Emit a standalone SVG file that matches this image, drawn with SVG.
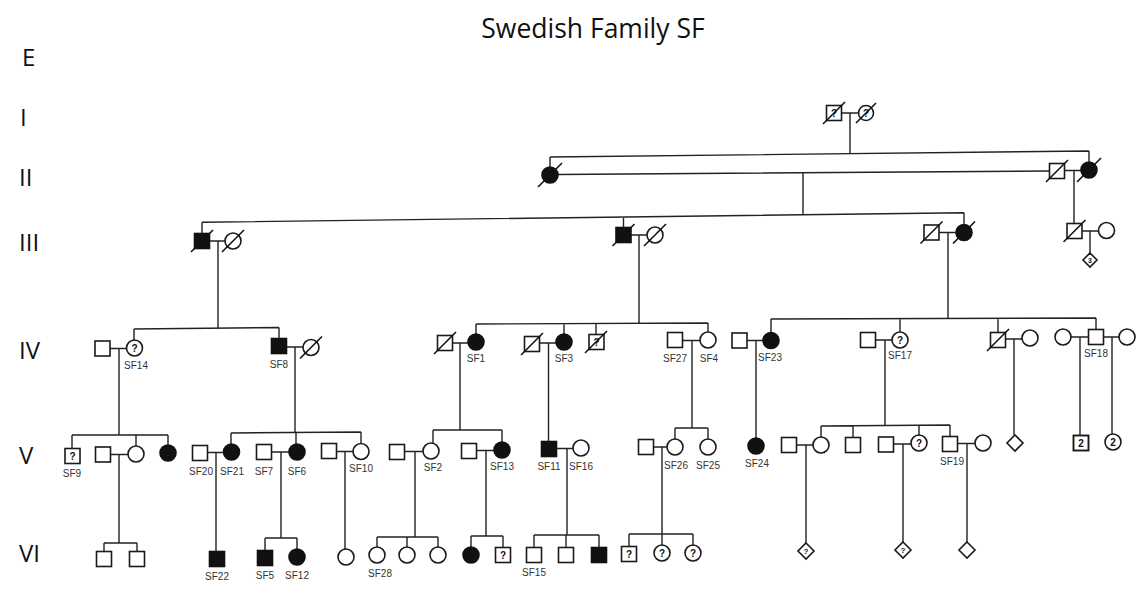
<svg xmlns="http://www.w3.org/2000/svg" width="1145" height="596" viewBox="0 0 1145 596">
<style>
.m{fill:#fff;stroke:#1a1a1a;stroke-width:1.6}
.f{fill:#111;stroke:#111;stroke-width:1.6}
.d{stroke:#111;stroke-width:1.6}
.ln{stroke:#222;stroke-width:1.4;fill:none}
.lb{font-family:"Liberation Sans",Arial,sans-serif;font-size:10px;fill:#333;text-anchor:middle}
.q{font-family:"Liberation Sans",Arial,sans-serif;font-size:10px;font-weight:bold;fill:#111;text-anchor:middle}
.gen{font-family:"Open Sans","Liberation Sans",sans-serif;font-size:24px;fill:#111}
.title{font-family:"Open Sans","Liberation Sans",sans-serif;font-size:26.5px;fill:#111;text-anchor:middle}
</style>
<rect width="1145" height="596" fill="#fff"/>
<text class="title" x="593" y="38">Swedish Family SF</text>
<g id="gen-labels">
<text class="gen" x="22" y="66">E</text>
<text class="gen" x="20" y="126">I</text>
<text class="gen" x="19" y="186">II</text>
<text class="gen" x="19" y="251">III</text>
<text class="gen" x="19" y="359">IV</text>
<text class="gen" x="19" y="464">V</text>
<text class="gen" x="19" y="562">VI</text>
</g>
<g id="connectors" class="ln">
<path d="M841.5 113H858.5M850 113V153.7"/>
<path d="M550 157L1089 151M550 157V167M1089 151V162"/>
<path d="M558 174.5L1049.5 171M1064.5 170.5H1081M803 173V214.7M1074 170.5V223.5"/>
<path d="M202 222.3L964 212.7M202 222.3V233.5M623.5 217V227.5M964 212.7V224.5"/>
<path d="M209.5 241H225M631 235H647M939 232.5H956M1082 231H1098.5"/>
<path d="M218 241V328.3M639 235V323.5M948 232.5V318.5M1090 231V253"/>
<path d="M134 329L279 327.5M134 329V340M279 327.5V338.5M110 348.5H126.5M286.5 347H303M119 348.5V435M295 347V433"/>
<path d="M476 324L708 323M476 324V334M564 323.6V334M596 323.5V334.5M708 323V332M452.5 343H468M539.5 343H556M682.5 340.5H700M460 343V430M548.5 343V441.5M692 340.5V428"/>
<path d="M771 319L1096 318M771 319V332.5M900 318.6V332M998 318.3V332.5M1096 318V329.5M747 340.5H763M875.5 340H892M1005.5 339H1022M1071 337H1088.5M1103.5 337H1119M756 340.5V438M885 340V426M1014 339V435M1080 337V435.5M1112 337V434"/>
<path d="M72 435H168M72 435V448.5M136 435V446M168 435V445M110.5 454.5H128M119 454.5V543M104 543H137M104 543V551.5M137 543V551.5"/>
<path d="M231 433L361 432M231 433V444M296 432.5V444M361 432V443.5M207.5 452.5H223.5M271.5 452H289M336.5 451.5H353M216 452.5V551.5M281 452V538M345 451.5V549M265 538H297M265 538V550.5M297 538V549"/>
<path d="M433 430H502M433 430V443M502 430V442M404.5 451.5H423M476.5 450.5H494M556.5 448.5H573M415 451.5V537M486 450.5V536M567 448.5V535"/>
<path d="M377 537H438M377 537V547M407 537V547M438 537V547M471 536H503M471 536V547M503 536V547.5M534 535H599M534 535V547.5M566 535V547.5M599 535V547.5"/>
<path d="M675 428H708M675 428V439M708 428V439M653.5 447H667M662 447V534M629 534H693M629 534V546.5M662 534V545M693 534V545"/>
<path d="M821 426L950 425M821 426V437M853 425.8V437.5M919 425.2V435M950 425V436.5M796.5 445H813M893.5 444H911M957.5 443.5H975M806 445V543M903 444V542M967 443.5V542"/>
</g>
<!-- Generation I -->
<g id="I-1"><rect class="m" x="826.5" y="105.5" width="15" height="15"/><text class="q" x="834" y="117">?</text><line class="d" x1="823" y1="124" x2="845" y2="102"/></g>
<g id="I-2"><circle class="m" cx="866" cy="113" r="7.5"/><text class="q" x="866" y="117">?</text><line class="d" x1="856" y1="123" x2="876" y2="103"/></g>
<!-- Generation II -->
<g id="II-1"><circle class="f" cx="550" cy="175" r="8"/><line class="d" x1="538" y1="187" x2="562" y2="163"/></g>
<g id="II-2"><rect class="m" x="1049.5" y="163.5" width="15" height="15"/><line class="d" x1="1046" y1="182" x2="1068" y2="160"/></g>
<g id="II-3"><circle class="f" cx="1089" cy="170" r="8"/><line class="d" x1="1077" y1="182" x2="1101" y2="158"/></g>
<!-- Generation III -->
<g id="III-1"><rect class="f" x="194.5" y="233.5" width="15" height="15"/><line class="d" x1="191" y1="252" x2="213" y2="230"/></g>
<g id="III-2"><circle class="m" cx="233" cy="241" r="8"/><line class="d" x1="222" y1="252" x2="244" y2="230"/></g>
<g id="III-3"><rect class="f" x="616" y="227.5" width="15" height="15"/><line class="d" x1="612.5" y1="246" x2="634.5" y2="224"/></g>
<g id="III-4"><circle class="m" cx="655" cy="235" r="8"/><line class="d" x1="644" y1="246" x2="666" y2="224"/></g>
<g id="III-5"><rect class="m" x="924" y="225" width="15" height="15"/><line class="d" x1="920.5" y1="243.5" x2="942.5" y2="221.5"/></g>
<g id="III-6"><circle class="f" cx="964" cy="232.5" r="8"/><line class="d" x1="953" y1="243.5" x2="975" y2="221.5"/></g>
<g id="III-7"><rect class="m" x="1067" y="223.5" width="15" height="15"/><line class="d" x1="1063.5" y1="242" x2="1085.5" y2="220"/></g>
<g id="III-8"><circle class="m" cx="1106.5" cy="230.5" r="8"/></g>
<g id="III-9"><polygon class="m" points="1090,253 1097,260 1090,267 1083,260"/><text class="q" x="1090" y="262.5" style="font-size:7px">3</text></g>
<!-- Generation IV -->
<g id="IV-1"><rect class="m" x="95" y="341" width="15" height="15"/></g>
<g id="IV-2"><circle class="m" cx="134.5" cy="348" r="8"/><text class="q" x="134.5" y="351.5">?</text><text class="lb" x="136" y="369">SF14</text></g>
<g id="IV-3"><rect class="f" x="271.5" y="338.5" width="15" height="15"/><text class="lb" x="279" y="368">SF8</text></g>
<g id="IV-4"><circle class="m" cx="311" cy="347.5" r="8"/><line class="d" x1="300" y1="358.5" x2="322" y2="336.5"/></g>
<g id="IV-5"><rect class="m" x="437.5" y="335.5" width="15" height="15"/><line class="d" x1="434" y1="354" x2="456" y2="332"/></g>
<g id="IV-6"><circle class="f" cx="476" cy="342" r="8"/><text class="lb" x="476" y="362">SF1</text></g>
<g id="IV-7"><rect class="m" x="524.5" y="336.5" width="15" height="15"/><line class="d" x1="521" y1="355" x2="543" y2="333"/></g>
<g id="IV-8"><circle class="f" cx="564" cy="342" r="8"/><text class="lb" x="564" y="362">SF3</text></g>
<g id="IV-9"><rect class="m" x="589" y="334.5" width="15" height="15"/><text class="q" x="596.5" y="345.5">?</text><line class="d" x1="585" y1="353" x2="607" y2="331"/></g>
<g id="IV-10"><rect class="m" x="667.5" y="332.5" width="15" height="15"/><text class="lb" x="675" y="362">SF27</text></g>
<g id="IV-11"><circle class="m" cx="708" cy="340" r="8"/><text class="lb" x="709" y="362">SF4</text></g>
<g id="IV-12"><rect class="m" x="732" y="333" width="15" height="15"/></g>
<g id="IV-13"><circle class="f" cx="771" cy="340.5" r="8"/><text class="lb" x="770" y="361">SF23</text></g>
<g id="IV-14"><rect class="m" x="860.5" y="332.5" width="15" height="15"/></g>
<g id="IV-15"><circle class="m" cx="900" cy="340" r="8"/><text class="q" x="900" y="343.5">?</text><text class="lb" x="900" y="359">SF17</text></g>
<g id="IV-16"><rect class="m" x="990.5" y="332.5" width="15" height="15"/><line class="d" x1="987" y1="351" x2="1009" y2="329"/></g>
<g id="IV-17"><circle class="m" cx="1030" cy="338" r="8"/></g>
<g id="IV-18"><circle class="m" cx="1063" cy="337" r="8"/></g>
<g id="IV-19"><rect class="m" x="1088.5" y="329.5" width="15" height="15"/><text class="lb" x="1096" y="357">SF18</text></g>
<g id="IV-20"><circle class="m" cx="1127" cy="337" r="8"/></g>
<!-- Generation V -->
<g id="V-1"><rect class="m" x="65" y="448.5" width="15" height="15"/><text class="q" x="72.5" y="459.5">?</text><text class="lb" x="72" y="477">SF9</text></g>
<g id="V-2"><rect class="m" x="95.5" y="447" width="15" height="15"/></g>
<g id="V-3"><circle class="m" cx="136" cy="454" r="8"/></g>
<g id="V-4"><circle class="f" cx="168" cy="453" r="8"/></g>
<g id="V-5"><rect class="m" x="192.5" y="445.5" width="15" height="15"/><text class="lb" x="201" y="475">SF20</text></g>
<g id="V-6"><circle class="f" cx="231.5" cy="452" r="8"/><text class="lb" x="232" y="475">SF21</text></g>
<g id="V-7"><rect class="m" x="256.5" y="444.5" width="15" height="15"/><text class="lb" x="264" y="475">SF7</text></g>
<g id="V-8"><circle class="f" cx="297" cy="452" r="8"/><text class="lb" x="297" y="475">SF6</text></g>
<g id="V-9"><rect class="m" x="321.5" y="443.5" width="15" height="15"/></g>
<g id="V-10"><circle class="m" cx="361" cy="451.5" r="8"/><text class="lb" x="361" y="472">SF10</text></g>
<g id="V-11"><rect class="m" x="389.5" y="444.5" width="15" height="15"/></g>
<g id="V-12"><circle class="m" cx="431" cy="451" r="8"/><text class="lb" x="433" y="471">SF2</text></g>
<g id="V-13"><rect class="m" x="461.5" y="443.5" width="15" height="15"/></g>
<g id="V-14"><circle class="f" cx="502" cy="450" r="8"/><text class="lb" x="502" y="470">SF13</text></g>
<g id="V-15"><rect class="f" x="541.5" y="441.5" width="15" height="15"/><text class="lb" x="549" y="470">SF11</text></g>
<g id="V-16"><circle class="m" cx="581" cy="448" r="8"/><text class="lb" x="581" y="470">SF16</text></g>
<g id="V-17"><rect class="m" x="638.5" y="439.5" width="15" height="15"/></g>
<g id="V-18"><circle class="m" cx="675" cy="447" r="8"/><text class="lb" x="676" y="469">SF26</text></g>
<g id="V-19"><circle class="m" cx="708" cy="447" r="8"/><text class="lb" x="708" y="469">SF25</text></g>
<g id="V-20"><circle class="f" cx="756" cy="446" r="8"/><text class="lb" x="757" y="467">SF24</text></g>
<g id="V-21"><rect class="m" x="781.5" y="437.5" width="15" height="15"/></g>
<g id="V-22"><circle class="m" cx="821" cy="445" r="8"/></g>
<g id="V-23"><rect class="m" x="845.5" y="437.5" width="15" height="15"/></g>
<g id="V-24"><rect class="m" x="878.5" y="437" width="15" height="15"/></g>
<g id="V-25"><circle class="m" cx="919" cy="443" r="8"/><text class="q" x="919" y="446.5">?</text></g>
<g id="V-26"><rect class="m" x="942.5" y="436.5" width="15" height="15"/><text class="lb" x="952" y="465">SF19</text></g>
<g id="V-27"><circle class="m" cx="983" cy="443" r="8"/></g>
<g id="V-28"><polygon class="m" points="1015,435 1023,443 1015,451 1007,443"/></g>
<g id="V-29"><rect class="m" x="1073.5" y="435.5" width="15" height="15" style="stroke-width:1.9"/><text class="q" x="1081" y="446.5">2</text></g>
<g id="V-30"><circle class="m" cx="1113" cy="442" r="8"/><text class="q" x="1113" y="445.5">2</text></g>
<!-- Generation VI -->
<g id="VI-1"><rect class="m" x="96.5" y="551.5" width="15" height="15"/></g>
<g id="VI-2"><rect class="m" x="129.5" y="551.5" width="15" height="15"/></g>
<g id="VI-3"><rect class="f" x="209.5" y="551.5" width="15" height="15"/><text class="lb" x="217" y="580">SF22</text></g>
<g id="VI-4"><rect class="f" x="257.5" y="550.5" width="15" height="15"/><text class="lb" x="265" y="579">SF5</text></g>
<g id="VI-5"><circle class="f" cx="297" cy="557" r="8"/><text class="lb" x="297" y="579">SF12</text></g>
<g id="VI-6"><circle class="m" cx="346" cy="557" r="8"/></g>
<g id="VI-7"><circle class="m" cx="377" cy="555" r="8"/><text class="lb" x="380" y="577">SF28</text></g>
<g id="VI-8"><circle class="m" cx="407" cy="555" r="8"/></g>
<g id="VI-9"><circle class="m" cx="438" cy="555" r="8"/></g>
<g id="VI-10"><circle class="f" cx="471" cy="555" r="8"/></g>
<g id="VI-11"><rect class="m" x="495.5" y="547.5" width="15" height="15"/><text class="q" x="503" y="558.5">?</text></g>
<g id="VI-12"><rect class="m" x="526.5" y="547.5" width="15" height="15"/><text class="lb" x="534" y="576">SF15</text></g>
<g id="VI-13"><rect class="m" x="558.5" y="547.5" width="15" height="15"/></g>
<g id="VI-14"><rect class="f" x="591.5" y="547.5" width="15" height="15"/></g>
<g id="VI-15"><rect class="m" x="621.5" y="546.5" width="15" height="15"/><text class="q" x="629" y="557.5">?</text></g>
<g id="VI-16"><circle class="m" cx="662" cy="553" r="8"/><text class="q" x="662" y="556.5">?</text></g>
<g id="VI-17"><circle class="m" cx="693" cy="553" r="8"/><text class="q" x="693" y="556.5">?</text></g>
<g id="VI-18"><polygon class="m" points="806,543 814,551 806,559 798,551"/><text class="q" x="806" y="554" style="font-size:8px">?</text></g>
<g id="VI-19"><polygon class="m" points="903,542 911,550 903,558 895,550"/><text class="q" x="903" y="553" style="font-size:8px">?</text></g>
<g id="VI-20"><polygon class="m" points="967,542 975,550 967,558 959,550"/></g>
</svg>
